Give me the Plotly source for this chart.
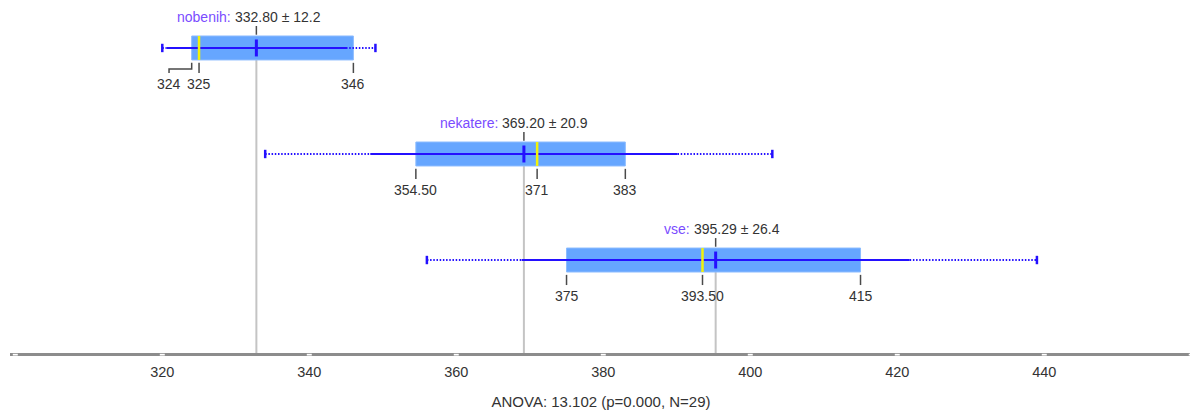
import plotly.graph_objects as go

# ---- data ----
groups = ["nobenih", "nekatere", "vse"]
means = [332.80, 369.20, 395.29]
sds = [12.2, 20.9, 26.4]
q1s = [324, 354.5, 375]
medians = [325, 371, 393.5]
q3s = [346, 383, 415]
mins = [320, 334, 356]
maxs = [349, 403, 439]
q_labels = [["324", "325", "346"], ["354.50", "371", "383"], ["375", "393.50", "415"]]
tick_vals = [300, 320, 340, 360, 380, 400, 420, 440, 460]
tick_text = ["", "320", "340", "360", "380", "400", "420", "440", ""]
anova_title = "ANOVA: 13.102 (p=0.000, N=29)"

# ---- style ----
# page body has an 8px margin, so the figure is made 8px smaller
W, H = 1190, 404
ML, MR, MT, MB = 2, 6, 0, 59
XR = [299.28, 460.1]
YR = [2.877, -0.377]
px_per_unit = (W - ML - MR) / (XR[1] - XR[0])

BOX_FILL = "#66a6ff"
BOX_EDGE = "#8cbcff"
BLUE = "#2410ff"
YELLOW = "#f2f20a"
PURPLE = "#7a4cff"
GREY = "#c4c4c4"
DARK = "#4a4a4a"
TXT = "#333333"
FONT = "Liberation Sans, Arial, sans-serif"
LBL = 14

fig = go.Figure()
shapes = []
annotations = []

BH = 0.113  # half box height (in category units)

for i, g in enumerate(groups):
    m, sd = means[i], sds[i]
    # grey mean line down to axis
    shapes.append(dict(type="line", xref="x", yref="y", x0=m, x1=m, y0=i + BH, y1=YR[0],
                       line=dict(color=GREY, width=2), layer="below"))
    # short tick above box under the mean label
    shapes.append(dict(type="line", xref="x", yref="y", x0=m, x1=m, y0=i - 0.207, y1=i - 0.125,
                       line=dict(color=DARK, width=1.5)))
    # box
    shapes.append(dict(type="rect", xref="x", yref="y", x0=q1s[i], x1=q3s[i], y0=i - BH, y1=i + BH,
                       fillcolor=BOX_FILL, line=dict(color=BOX_EDGE, width=1)))
    # dotted whiskers min..max
    shapes.append(dict(type="line", xref="x", yref="y", x0=mins[i], x1=m - sd, y0=i, y1=i,
                       line=dict(color=BLUE, width=2, dash="1.5px,1.7px")))
    shapes.append(dict(type="line", xref="x", yref="y", x0=m + sd, x1=maxs[i], y0=i, y1=i,
                       line=dict(color=BLUE, width=2, dash="1.5px,1.7px")))
    # solid mean +- sd
    shapes.append(dict(type="line", xref="x", yref="y", x0=m - sd, x1=m + sd, y0=i, y1=i,
                       line=dict(color=BLUE, width=2)))
    # median (yellow)
    shapes.append(dict(type="line", xref="x", yref="y", x0=medians[i], x1=medians[i], y0=i - BH, y1=i + BH,
                       line=dict(color=YELLOW, width=2.5)))
    # mean (blue)
    shapes.append(dict(type="line", xref="x", yref="y", x0=m, x1=m, y0=i - 0.08, y1=i + 0.08,
                       line=dict(color=BLUE, width=3)))

    # mean label: name (purple) + value, value centred on mean
    annotations.append(dict(x=m, y=i - 0.29, xref="x", yref="y", text=f"{m:.2f} ± {sd:.1f}",
                            showarrow=False, xanchor="left", yanchor="middle", xshift=-23.5,
                            font=dict(family=FONT, size=LBL, color=TXT)))
    annotations.append(dict(x=m, y=i - 0.29, xref="x", yref="y", text=f"{g}:",
                            showarrow=False, xanchor="right", yanchor="middle", xshift=-23.5,
                            font=dict(family=FONT, size=LBL, color=PURPLE)))

    # quartile labels with simple collision handling
    vals = [q1s[i], medians[i], q3s[i]]
    centers_px = [v * px_per_unit for v in vals]
    shifts = [0, 0, 0]
    for k in (1, 0):
        right = centers_px[k + 1] + shifts[k + 1]
        if right - centers_px[k] < 30:
            shifts[k] = (right - 30) - centers_px[k]
    for k, v in enumerate(vals):
        if shifts[k] == 0:
            shapes.append(dict(type="line", xref="x", yref="y", x0=v, x1=v, y0=i + 0.14, y1=i + 0.236,
                               line=dict(color=DARK, width=1.5)))
        else:
            xl = v + shifts[k] / px_per_unit
            shapes.append(dict(type="path", xref="x", yref="y",
                               path=f"M {v},{i + 0.14} L {v},{i + 0.198} L {xl},{i + 0.198} L {xl},{i + 0.236}",
                               line=dict(color=DARK, width=1.5)))
        annotations.append(dict(x=v, y=i + 0.34, xref="x", yref="y", text=q_labels[i][k],
                                showarrow=False, xanchor="center", yanchor="middle", xshift=shifts[k],
                                font=dict(family=FONT, size=LBL, color=TXT)))

# min / max end markers
fig.add_trace(go.Scatter(
    x=mins + maxs, y=list(range(len(groups))) * 2, mode="markers",
    marker=dict(symbol="line-ns", size=6, line=dict(color=BLUE, width=2.5)),
    hoverinfo="skip", showlegend=False))

# white tick gaps on the thick axis line
for tv in tick_vals:
    shapes.append(dict(type="rect", xref="x", yref="paper", xsizemode="pixel", ysizemode="pixel",
                       xanchor=tv, yanchor=0, x0=-2.5, x1=2.5, y0=-2.5, y1=-0.8,
                       fillcolor="white", line=dict(width=0), layer="above"))

fig.update_layout(
    width=W, height=H,
    margin=dict(l=ML, r=MR, t=MT, b=MB),
    paper_bgcolor="white", plot_bgcolor="white",
    shapes=shapes, annotations=annotations,
    font=dict(family=FONT, size=LBL, color=TXT),
    xaxis=dict(range=XR, showgrid=False, zeroline=False, showline=True,
               linecolor="#8c8c8c", linewidth=3, ticks="outside", ticklen=4,
               tickcolor="rgba(0,0,0,0)", tickvals=tick_vals, ticktext=tick_text,
               tickfont=dict(family=FONT, size=14.5, color=TXT),
               title=dict(text=anova_title, font=dict(family=FONT, size=15, color=TXT), standoff=18)),
    yaxis=dict(range=YR, visible=False),
)

fig.write_html("out.html")
